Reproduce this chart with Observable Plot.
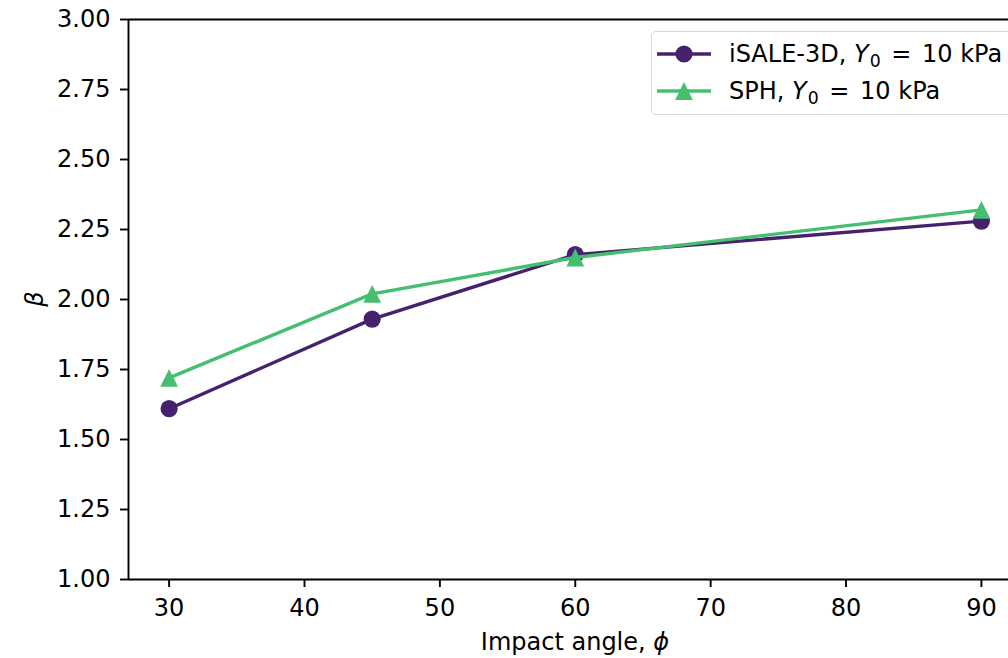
<!DOCTYPE html>
<html><head><meta charset="utf-8">
<script src="https://cdn.jsdelivr.net/npm/d3@7"></script>
<script src="https://cdn.jsdelivr.net/npm/@observablehq/plot@0.6"></script>
<style>
body{margin:0;background:#fff;}
#wrap{position:relative;width:1008px;height:658px;overflow:hidden;font-family:"DejaVu Sans",sans-serif;background:#fff;}
#legend{position:absolute;left:651px;top:31px;width:420px;height:82px;border:1.5px solid #d6d6d6;border-radius:5px;background:rgba(255,255,255,0.8);}
.row{position:absolute;left:0;height:37px;display:flex;align-items:center;font-size:24px;color:#000;white-space:nowrap;}
.row svg{margin-left:5px;margin-right:18px;}
.sub{font-size:72%;position:relative;top:0.3em;margin-left:1px;}
.eq{margin:0 3px;}
</style></head><body><div id="wrap"></div>
<script>
const angles = [30, 45, 60, 90];
const isale = [1.61, 1.93, 2.16, 2.28];
const sph = [1.72, 2.02, 2.15, 2.32];
const seriesNames = ["iSALE-3D", "SPH"];
const seriesColors = ["#46226e", "#45bf6f"];
const xTicks = [30, 40, 50, 60, 70, 80, 90];
const yTicks = [1.00, 1.25, 1.50, 1.75, 2.00, 2.25, 2.50, 2.75, 3.00];

const rows = [];
angles.forEach((a, i) => rows.push({angle: a, beta: isale[i], series: seriesNames[0]}));
angles.forEach((a, i) => rows.push({angle: a, beta: sph[i], series: seriesNames[1]}));

// matplotlib-style triangle (width == height), area = size
const tri = {
  draw(ctx, size) {
    const h = Math.sqrt(2 * size), w = h / 2;
    ctx.moveTo(0, -w); ctx.lineTo(w, w); ctx.lineTo(-w, w); ctx.closePath();
  }
};

const W = 1008, H = 658;
const chart = Plot.plot({
  width: W, height: H,
  marginLeft: 128, marginRight: 0, marginTop: 19, marginBottom: 79,
  style: {fontFamily: "DejaVu Sans, sans-serif", fontSize: "24px", color: "#000", background: "#fff"},
  x: {domain: [27, 92], label: null},
  y: {domain: [1, 3], label: null},
  marks: [
    Plot.axisX({ticks: xTicks, tickSize: 8, tickPadding: 11, fontSize: 24, strokeWidth: 1.9, label: null}),
    Plot.axisY({ticks: yTicks, tickSize: 8, tickPadding: 10, fontSize: 24, strokeWidth: 1.9, tickFormat: d3.format(".2f"), label: null}),
    Plot.line(rows.filter(d => d.series === seriesNames[0]), {x: "angle", y: "beta", stroke: seriesColors[0], strokeWidth: 3.4}),
    Plot.dot(rows.filter(d => d.series === seriesNames[0]), {x: "angle", y: "beta", fill: seriesColors[0], r: 8.6, symbol: "circle"}),
    Plot.line(rows.filter(d => d.series === seriesNames[1]), {x: "angle", y: "beta", stroke: seriesColors[1], strokeWidth: 3.4}),
    Plot.dot(rows.filter(d => d.series === seriesNames[1]), {x: "angle", y: "beta", fill: seriesColors[1], r: 7.1, symbol: tri}),
    Plot.ruleX([27], {stroke: "#000", strokeWidth: 1.9}),
    Plot.ruleY([1], {stroke: "#000", strokeWidth: 1.9}),
    Plot.ruleY([3], {stroke: "#000", strokeWidth: 1.9})
  ]
});
const wrap = document.getElementById("wrap");
wrap.appendChild(chart);

const svg = d3.select(chart);
// x label
const xl = svg.append("text").attr("x", 575).attr("y", 643).attr("text-anchor", "middle")
  .attr("dominant-baseline", "middle").attr("font-size", 24).attr("fill", "#000");
xl.append("tspan").text("Impact angle, ");
xl.append("tspan").attr("font-style", "italic").text("ϕ");
// y label
svg.append("text").attr("transform", "translate(36,299) rotate(-90)").attr("text-anchor", "middle")
  .attr("dominant-baseline", "middle").attr("font-size", 24).attr("font-style", "italic").attr("fill", "#000").text("β");

// legend
const leg = document.createElement("div");
leg.id = "legend";
const marker = (i) => i === 0
  ? `<circle cx="27" cy="10" r="8.6" fill="${seriesColors[0]}"/>`
  : `<path d="M27,1.1 L35.9,18.9 L18.1,18.9 Z" fill="${seriesColors[1]}"/>`;
seriesNames.forEach((name, i) => {
  const r = document.createElement("div");
  r.className = "row";
  r.style.top = (3 + i * 37) + "px";
  r.innerHTML = `<svg width="54" height="20"><line x1="0" x2="54" y1="10" y2="10" stroke="${seriesColors[i]}" stroke-width="3.4"/>${marker(i)}</svg>` +
    `<span>${name}, <i>Y</i><span class="sub">0</span> <span class="eq">=</span> 10 kPa</span>`;
  leg.appendChild(r);
});
wrap.appendChild(leg);
</script>
</body></html>
